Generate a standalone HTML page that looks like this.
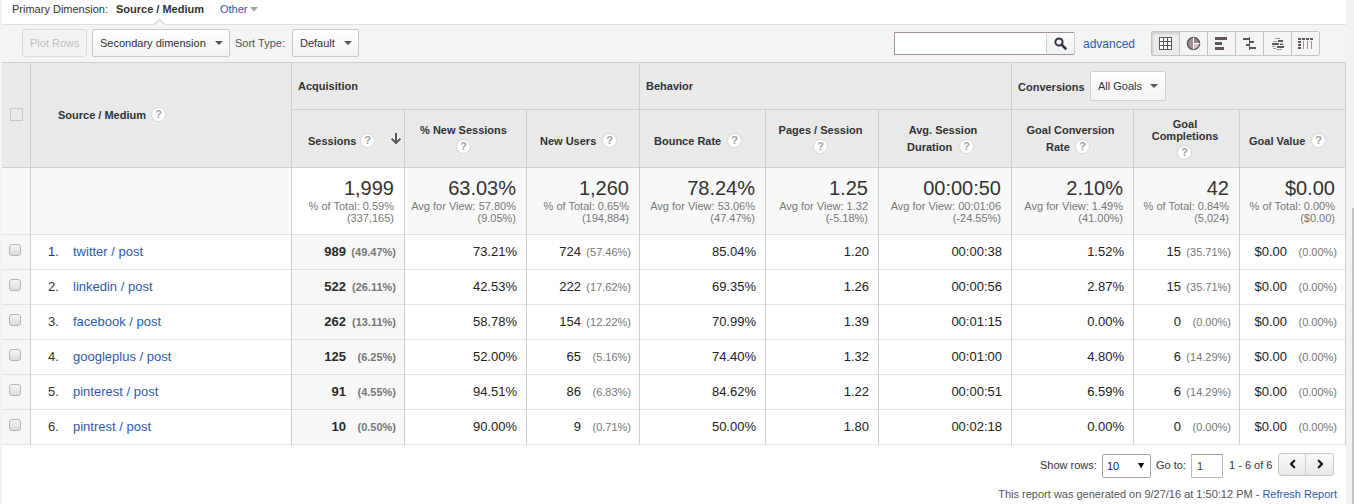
<!DOCTYPE html>
<html><head><meta charset="utf-8"><title>Analytics table</title>
<style>
html,body{margin:0;padding:0;width:1354px;height:504px;overflow:hidden;position:relative;font-family:"Liberation Sans", sans-serif;background:#fff}
</style></head><body>
<div style="position:absolute;left:0px;top:0px;width:1354px;height:504px;background:#ffffff"></div>
<div style="position:absolute;left:0px;top:0px;width:2px;height:504px;background:#f3f3f3"></div>
<div style="position:absolute;left:1346px;top:0px;width:8px;height:504px;background:#f2f2f2"></div>
<div style="position:absolute;left:1352px;top:208px;width:2px;height:296px;background:#c3c3c3"></div>
<div style="position:absolute;left:2px;top:0px;width:1344px;height:24px;background:#fff"></div>
<div style="position:absolute;left:2px;top:24px;width:1344px;height:1px;background:#dedede"></div>
<div style="position:absolute;left:12px;top:-1px;font-size:11px;line-height:20px;color:#333;white-space:nowrap;">Primary Dimension:</div>
<div style="position:absolute;left:116px;top:-1px;font-size:11px;line-height:20px;color:#333;font-weight:bold;white-space:nowrap;">Source / Medium</div>
<div style="position:absolute;left:220px;top:-1px;font-size:11px;line-height:20px;color:#2d5aac;white-space:nowrap;">Other</div>
<svg style="position:absolute;left:250px;top:7px" width="8" height="5"><polygon points="0,0 8,0 4,4.5" fill="#a0a0a0"/></svg>
<div style="position:absolute;left:2px;top:25px;width:1344px;height:37px;background:#f4f4f4"></div>
<svg style="position:absolute;left:153px;top:18px" width="14" height="8"><polygon points="1,6.5 6.5,1 12,6.5 12,7 1,7" fill="#f6f6f6"/><polyline points="1,6.6 6.5,1.1 12,6.6" fill="none" stroke="#b9b9b9" stroke-width="0.9"/></svg>
<div style="position:absolute;left:22px;top:29px;width:65px;height:28px;box-sizing:border-box;border:1px solid #dcdcdc;border-radius:3px;background:#f2f2f2"></div>
<div style="position:absolute;left:30px;top:33px;font-size:11px;line-height:20px;color:#c0c0c0;white-space:nowrap;">Plot Rows</div>
<div style="position:absolute;left:92px;top:29px;width:138px;height:28px;box-sizing:border-box;border:1px solid #c8c8c8;border-radius:2px;background:linear-gradient(#ffffff,#f3f3f3)"></div>
<div style="position:absolute;left:100px;top:33px;font-size:11px;line-height:20px;color:#333;white-space:nowrap;">Secondary dimension</div>
<svg style="position:absolute;left:215px;top:41px" width="8" height="5"><polygon points="0,0 8,0 4.0,4" fill="#555"/></svg>
<div style="position:absolute;left:235px;top:33px;font-size:11px;line-height:20px;color:#555;white-space:nowrap;">Sort Type:</div>
<div style="position:absolute;left:292px;top:29px;width:67px;height:28px;box-sizing:border-box;border:1px solid #c8c8c8;border-radius:2px;background:linear-gradient(#ffffff,#f3f3f3)"></div>
<div style="position:absolute;left:300px;top:33px;font-size:11px;line-height:20px;color:#333;white-space:nowrap;">Default</div>
<svg style="position:absolute;left:344px;top:41px" width="8" height="5"><polygon points="0,0 8,0 4.0,4" fill="#555"/></svg>
<div style="position:absolute;left:894px;top:32px;width:153px;height:23px;box-sizing:border-box;border:1px solid #a38e9b;background:#fff"></div>
<div style="position:absolute;left:1046px;top:32px;width:29px;height:23px;box-sizing:border-box;border:1px solid #a38e9b;border-left-color:#cfcfcf;border-right-color:#cdcdcd;border-radius:0 2px 2px 0;background:linear-gradient(#fbfbfb,#f1f1f1)"></div>
<svg style="position:absolute;left:1053px;top:36px" width="16" height="16"><circle cx="6" cy="6" r="3.6" fill="none" stroke="#3b2f4f" stroke-width="2"/><line x1="8.6" y1="8.6" x2="12.5" y2="12.5" stroke="#3b2f4f" stroke-width="2.6" stroke-linecap="round"/></svg>
<div style="position:absolute;left:1083px;top:34px;font-size:12px;line-height:20px;color:#2d5aac;white-space:nowrap;">advanced</div>
<div style="position:absolute;left:1151px;top:31px;width:169px;height:25px;box-sizing:border-box;border:1px solid #c4c4c4;border-radius:2px;background:#f4f4f4"></div>
<div style="position:absolute;left:1152px;top:32px;width:28px;height:23px;background:#ececec;box-shadow:inset 1px 2px 2px rgba(0,0,0,0.12)"></div>
<div style="position:absolute;left:1179px;top:32px;width:1px;height:23px;background:#c4c4c4"></div>
<div style="position:absolute;left:1207px;top:32px;width:1px;height:23px;background:#c4c4c4"></div>
<div style="position:absolute;left:1235px;top:32px;width:1px;height:23px;background:#c4c4c4"></div>
<div style="position:absolute;left:1263px;top:32px;width:1px;height:23px;background:#c4c4c4"></div>
<div style="position:absolute;left:1291px;top:32px;width:1px;height:23px;background:#c4c4c4"></div>
<svg style="position:absolute;left:1159px;top:37px" width="13" height="13"><rect x="0" y="0" width="13" height="13" fill="#5e5658"/>
<rect x="1" y="1" width="3" height="3" fill="#fff"/><rect x="1" y="5" width="3" height="3" fill="#fff"/><rect x="1" y="9" width="3" height="3" fill="#fff"/><rect x="5" y="1" width="3" height="3" fill="#fff"/><rect x="5" y="5" width="3" height="3" fill="#fff"/><rect x="5" y="9" width="3" height="3" fill="#fff"/><rect x="9" y="1" width="3" height="3" fill="#fff"/><rect x="9" y="5" width="3" height="3" fill="#fff"/><rect x="9" y="9" width="3" height="3" fill="#fff"/></svg>
<svg style="position:absolute;left:1186px;top:36px" width="15" height="15"><circle cx="7.5" cy="7.5" r="6.4" fill="#cdc7ca"/>
<path d="M7.5 7.5 L7.5 1.1 A6.4 6.4 0 0 1 13.9 7.5 Z" fill="#8f8489"/><path d="M7.5 1.1 A6.4 6.4 0 0 0 7.5 13.9 Z" fill="#a48f99"/><circle cx="7.5" cy="7.5" r="6.1" fill="none" stroke="#5e5658" stroke-width="1.4"/><line x1="7.5" y1="1.5" x2="7.5" y2="13.5" stroke="#fff" stroke-width="1"/><line x1="7.5" y1="7.5" x2="13.5" y2="7.5" stroke="#fff" stroke-width="1"/></svg>
<svg style="position:absolute;left:1215px;top:37px" width="13" height="13"><rect x="0" y="0" width="12" height="3" fill="#5e5658"/><rect x="0" y="5" width="7" height="3" fill="#5e5658"/><rect x="0" y="10" width="9" height="3" fill="#5e5658"/></svg>
<svg style="position:absolute;left:1243px;top:37px" width="14" height="13"><rect x="6" y="0" width="1" height="13" fill="#5e5658"/><rect x="0" y="1" width="6.5" height="2" fill="#5e5658"/><rect x="6" y="4" width="5" height="2" fill="#5e5658"/><rect x="3" y="7" width="3.5" height="2" fill="#5e5658"/><rect x="6" y="10" width="7" height="2" fill="#5e5658"/></svg>
<svg style="position:absolute;left:1272px;top:37px" width="13" height="13"><rect x="3" y="1" width="5" height="1" fill="#a48f99"/><rect x="1" y="4" width="4" height="1" fill="#a48f99"/><rect x="6" y="3" width="5" height="2" fill="#5e5658"/><rect x="0" y="6" width="7" height="2" fill="#5e5658"/><rect x="8" y="6.6" width="3" height="1.4" fill="#5e5658"/><rect x="0" y="9" width="3.5" height="1" fill="#a48f99"/><rect x="5" y="9" width="7" height="2" fill="#5e5658"/><rect x="1" y="11" width="3" height="1" fill="#a48f99"/><rect x="4.6" y="12" width="5.4" height="1" fill="#a48f99"/></svg>
<svg style="position:absolute;left:1298px;top:37px" width="16" height="13"><rect x="0" y="1" width="3" height="2" fill="#5e5658"/><rect x="4" y="1" width="3" height="2" fill="#5e5658"/><rect x="8" y="1" width="3" height="2" fill="#5e5658"/><rect x="12" y="1" width="3" height="2" fill="#5e5658"/>
<rect x="0" y="4" width="3" height="2" fill="#5e5658"/><rect x="0" y="7" width="3" height="2" fill="#5e5658"/><rect x="0" y="10" width="3" height="2" fill="#5e5658"/>
<rect x="5" y="4" width="1" height="8" fill="#a48f99"/><rect x="9" y="4" width="1" height="8" fill="#a48f99"/><rect x="13" y="4" width="1" height="8" fill="#a48f99"/></svg>
<div style="position:absolute;left:2px;top:62px;width:1344px;height:105px;background:#e9e9e9"></div>
<div style="position:absolute;left:2px;top:168px;width:1344px;height:66px;background:#f8f8f8"></div>
<div style="position:absolute;left:292px;top:168px;width:112px;height:66px;background:#ffffff"></div>
<div style="position:absolute;left:2px;top:235px;width:1344px;height:209px;background:#ffffff"></div>
<div style="position:absolute;left:2px;top:235px;width:28px;height:209px;background:#f6f6f6"></div>
<div style="position:absolute;left:292px;top:235px;width:112px;height:209px;background:#f8f8f8"></div>
<div style="position:absolute;left:2px;top:62px;width:1344px;height:1px;background:#cfcfcf"></div>
<div style="position:absolute;left:291px;top:109px;width:1055px;height:1px;background:#cfcfcf"></div>
<div style="position:absolute;left:2px;top:167px;width:1344px;height:1px;background:#cfcfcf"></div>
<div style="position:absolute;left:2px;top:234px;width:1344px;height:1px;background:#e3e3e3"></div>
<div style="position:absolute;left:2px;top:269px;width:1344px;height:1px;background:#e3e3e3"></div>
<div style="position:absolute;left:2px;top:304px;width:1344px;height:1px;background:#e3e3e3"></div>
<div style="position:absolute;left:2px;top:339px;width:1344px;height:1px;background:#e3e3e3"></div>
<div style="position:absolute;left:2px;top:374px;width:1344px;height:1px;background:#e3e3e3"></div>
<div style="position:absolute;left:2px;top:409px;width:1344px;height:1px;background:#e3e3e3"></div>
<div style="position:absolute;left:2px;top:444px;width:1344px;height:1px;background:#e3e3e3"></div>
<div style="position:absolute;left:30px;top:62px;width:1px;height:383px;background:#cfcfcf"></div>
<div style="position:absolute;left:291px;top:62px;width:1px;height:383px;background:#cfcfcf"></div>
<div style="position:absolute;left:404px;top:109px;width:1px;height:336px;background:#cfcfcf"></div>
<div style="position:absolute;left:526px;top:109px;width:1px;height:336px;background:#cfcfcf"></div>
<div style="position:absolute;left:639px;top:62px;width:1px;height:383px;background:#cfcfcf"></div>
<div style="position:absolute;left:765px;top:109px;width:1px;height:336px;background:#cfcfcf"></div>
<div style="position:absolute;left:878px;top:109px;width:1px;height:336px;background:#cfcfcf"></div>
<div style="position:absolute;left:1011px;top:62px;width:1px;height:383px;background:#cfcfcf"></div>
<div style="position:absolute;left:1133px;top:109px;width:1px;height:336px;background:#cfcfcf"></div>
<div style="position:absolute;left:1239px;top:109px;width:1px;height:336px;background:#cfcfcf"></div>
<div style="position:absolute;left:1345px;top:62px;width:1px;height:383px;background:#cfcfcf"></div>
<div style="position:absolute;left:10px;top:108px;width:13px;height:13px;box-sizing:border-box;border:1px solid #c6c6c6"></div>
<div style="position:absolute;left:58px;top:105px;font-size:11px;line-height:20px;color:#333;font-weight:bold;white-space:nowrap;">Source / Medium</div>
<div style="position:absolute;left:151px;top:107px;width:15px;height:15px;box-sizing:border-box;border-radius:50%;background:#fff;border:1px solid #d6d6d6;font-size:11px;font-weight:bold;line-height:13px;text-align:center;color:#a3a3a3">?</div>
<div style="position:absolute;left:298px;top:76px;font-size:11px;line-height:20px;color:#333;font-weight:bold;white-space:nowrap;">Acquisition</div>
<div style="position:absolute;left:646px;top:76px;font-size:11px;line-height:20px;color:#333;font-weight:bold;white-space:nowrap;">Behavior</div>
<div style="position:absolute;left:1018px;top:77px;font-size:11px;line-height:20px;color:#333;font-weight:bold;white-space:nowrap;">Conversions</div>
<div style="position:absolute;left:1090px;top:71px;width:76px;height:30px;box-sizing:border-box;border:1px solid #cfcfcf;border-radius:2px;background:linear-gradient(#ffffff,#f3f3f3)"></div>
<div style="position:absolute;left:1098px;top:76px;font-size:11px;line-height:20px;color:#333;white-space:nowrap;">All Goals</div>
<svg style="position:absolute;left:1150px;top:84px" width="8" height="5"><polygon points="0,0 8,0 4.0,4" fill="#555"/></svg>
<div style="position:absolute;left:308px;top:131px;font-size:11px;line-height:20px;color:#333;font-weight:bold;white-space:nowrap;">Sessions</div>
<div style="position:absolute;left:360px;top:133px;width:15px;height:15px;box-sizing:border-box;border-radius:50%;background:#fff;border:1px solid #d6d6d6;font-size:11px;font-weight:bold;line-height:13px;text-align:center;color:#a3a3a3">?</div>
<svg style="position:absolute;left:390px;top:132px" width="12" height="14"><g stroke="rgba(255,255,255,0.45)" stroke-width="4" fill="none"><line x1="6" y1="1" x2="6" y2="10.5"/><polyline points="1.6,6.6 6,11 10.4,6.6"/></g><g stroke="#595455" stroke-width="2" fill="none"><line x1="6" y1="1" x2="6" y2="10.5"/><polyline points="1.6,6.6 6,11 10.4,6.6"/></g></svg>
<div style="position:absolute;left:363.5px;width:200px;text-align:center;top:120px;font-size:11px;line-height:20px;color:#333;font-weight:bold;white-space:nowrap">% New Sessions</div>
<div style="position:absolute;left:456px;top:139px;width:15px;height:15px;box-sizing:border-box;border-radius:50%;background:#fff;border:1px solid #d6d6d6;font-size:11px;font-weight:bold;line-height:13px;text-align:center;color:#a3a3a3">?</div>
<div style="position:absolute;left:540px;top:131px;font-size:11px;line-height:20px;color:#333;font-weight:bold;white-space:nowrap;">New Users</div>
<div style="position:absolute;left:602px;top:133px;width:15px;height:15px;box-sizing:border-box;border-radius:50%;background:#fff;border:1px solid #d6d6d6;font-size:11px;font-weight:bold;line-height:13px;text-align:center;color:#a3a3a3">?</div>
<div style="position:absolute;left:654px;top:131px;font-size:11px;line-height:20px;color:#333;font-weight:bold;white-space:nowrap;">Bounce Rate</div>
<div style="position:absolute;left:727px;top:133px;width:15px;height:15px;box-sizing:border-box;border-radius:50%;background:#fff;border:1px solid #d6d6d6;font-size:11px;font-weight:bold;line-height:13px;text-align:center;color:#a3a3a3">?</div>
<div style="position:absolute;left:720.5px;width:200px;text-align:center;top:120px;font-size:11px;line-height:20px;color:#333;font-weight:bold;white-space:nowrap">Pages / Session</div>
<div style="position:absolute;left:813px;top:139px;width:15px;height:15px;box-sizing:border-box;border-radius:50%;background:#fff;border:1px solid #d6d6d6;font-size:11px;font-weight:bold;line-height:13px;text-align:center;color:#a3a3a3">?</div>
<div style="position:absolute;left:843px;width:200px;text-align:center;top:120px;font-size:11px;line-height:20px;color:#333;font-weight:bold;white-space:nowrap">Avg. Session</div>
<div style="position:absolute;left:907px;top:137px;font-size:11px;line-height:20px;color:#333;font-weight:bold;white-space:nowrap;">Duration</div>
<div style="position:absolute;left:959px;top:139px;width:15px;height:15px;box-sizing:border-box;border-radius:50%;background:#fff;border:1px solid #d6d6d6;font-size:11px;font-weight:bold;line-height:13px;text-align:center;color:#a3a3a3">?</div>
<div style="position:absolute;left:970.5px;width:200px;text-align:center;top:120px;font-size:11px;line-height:20px;color:#333;font-weight:bold;white-space:nowrap">Goal Conversion</div>
<div style="position:absolute;left:1046px;top:137px;font-size:11px;line-height:20px;color:#333;font-weight:bold;white-space:nowrap;">Rate</div>
<div style="position:absolute;left:1075px;top:139px;width:15px;height:15px;box-sizing:border-box;border-radius:50%;background:#fff;border:1px solid #d6d6d6;font-size:11px;font-weight:bold;line-height:13px;text-align:center;color:#a3a3a3">?</div>
<div style="position:absolute;left:1085px;width:200px;text-align:center;top:114px;font-size:11px;line-height:20px;color:#333;font-weight:bold;white-space:nowrap">Goal</div>
<div style="position:absolute;left:1085px;width:200px;text-align:center;top:126px;font-size:11px;line-height:20px;color:#333;font-weight:bold;white-space:nowrap">Completions</div>
<div style="position:absolute;left:1177px;top:145px;width:15px;height:15px;box-sizing:border-box;border-radius:50%;background:#fff;border:1px solid #d6d6d6;font-size:11px;font-weight:bold;line-height:13px;text-align:center;color:#a3a3a3">?</div>
<div style="position:absolute;left:1249px;top:131px;font-size:11px;line-height:20px;color:#333;font-weight:bold;white-space:nowrap;">Goal Value</div>
<div style="position:absolute;left:1311px;top:133px;width:15px;height:15px;box-sizing:border-box;border-radius:50%;background:#fff;border:1px solid #d6d6d6;font-size:11px;font-weight:bold;line-height:13px;text-align:center;color:#a3a3a3">?</div>
<div style="position:absolute;right:960px;top:178px;font-size:20px;line-height:20px;color:#333;white-space:nowrap;">1,999</div>
<div style="position:absolute;right:960px;top:196px;font-size:11px;line-height:20px;color:#777;white-space:nowrap;">% of Total: 0.59%</div>
<div style="position:absolute;right:960px;top:208px;font-size:11px;line-height:20px;color:#777;white-space:nowrap;">(337,165)</div>
<div style="position:absolute;right:838px;top:178px;font-size:20px;line-height:20px;color:#333;white-space:nowrap;">63.03%</div>
<div style="position:absolute;right:838px;top:196px;font-size:11px;line-height:20px;color:#777;white-space:nowrap;">Avg for View: 57.80%</div>
<div style="position:absolute;right:838px;top:208px;font-size:11px;line-height:20px;color:#777;white-space:nowrap;">(9.05%)</div>
<div style="position:absolute;right:725px;top:178px;font-size:20px;line-height:20px;color:#333;white-space:nowrap;">1,260</div>
<div style="position:absolute;right:725px;top:196px;font-size:11px;line-height:20px;color:#777;white-space:nowrap;">% of Total: 0.65%</div>
<div style="position:absolute;right:725px;top:208px;font-size:11px;line-height:20px;color:#777;white-space:nowrap;">(194,884)</div>
<div style="position:absolute;right:599px;top:178px;font-size:20px;line-height:20px;color:#333;white-space:nowrap;">78.24%</div>
<div style="position:absolute;right:599px;top:196px;font-size:11px;line-height:20px;color:#777;white-space:nowrap;">Avg for View: 53.06%</div>
<div style="position:absolute;right:599px;top:208px;font-size:11px;line-height:20px;color:#777;white-space:nowrap;">(47.47%)</div>
<div style="position:absolute;right:486px;top:178px;font-size:20px;line-height:20px;color:#333;white-space:nowrap;">1.25</div>
<div style="position:absolute;right:486px;top:196px;font-size:11px;line-height:20px;color:#777;white-space:nowrap;">Avg for View: 1.32</div>
<div style="position:absolute;right:486px;top:208px;font-size:11px;line-height:20px;color:#777;white-space:nowrap;">(-5.18%)</div>
<div style="position:absolute;right:353px;top:178px;font-size:20px;line-height:20px;color:#333;white-space:nowrap;">00:00:50</div>
<div style="position:absolute;right:353px;top:196px;font-size:11px;line-height:20px;color:#777;white-space:nowrap;">Avg for View: 00:01:06</div>
<div style="position:absolute;right:353px;top:208px;font-size:11px;line-height:20px;color:#777;white-space:nowrap;">(-24.55%)</div>
<div style="position:absolute;right:231px;top:178px;font-size:20px;line-height:20px;color:#333;white-space:nowrap;">2.10%</div>
<div style="position:absolute;right:231px;top:196px;font-size:11px;line-height:20px;color:#777;white-space:nowrap;">Avg for View: 1.49%</div>
<div style="position:absolute;right:231px;top:208px;font-size:11px;line-height:20px;color:#777;white-space:nowrap;">(41.00%)</div>
<div style="position:absolute;right:125px;top:178px;font-size:20px;line-height:20px;color:#333;white-space:nowrap;">42</div>
<div style="position:absolute;right:125px;top:196px;font-size:11px;line-height:20px;color:#777;white-space:nowrap;">% of Total: 0.84%</div>
<div style="position:absolute;right:125px;top:208px;font-size:11px;line-height:20px;color:#777;white-space:nowrap;">(5,024)</div>
<div style="position:absolute;right:19px;top:178px;font-size:20px;line-height:20px;color:#333;white-space:nowrap;">$0.00</div>
<div style="position:absolute;right:19px;top:196px;font-size:11px;line-height:20px;color:#777;white-space:nowrap;">% of Total: 0.00%</div>
<div style="position:absolute;right:19px;top:208px;font-size:11px;line-height:20px;color:#777;white-space:nowrap;">($0.00)</div>
<div style="position:absolute;left:9px;top:244px;width:12px;height:12px;box-sizing:border-box;border:1px solid #b5b5b5;border-radius:3px;background:linear-gradient(#f4f4f4,#dcdcdc)"></div>
<div style="position:absolute;left:48px;top:242px;font-size:13px;line-height:20px;color:#333;white-space:nowrap;">1.</div>
<div style="position:absolute;left:73px;top:242px;font-size:13px;line-height:20px;color:#2d5aac;white-space:nowrap;">twitter / post</div>
<div style="position:absolute;right:958px;top:242px;font-size:11px;line-height:20px;color:#777;font-weight:bold;white-space:nowrap;">(49.47%)</div>
<div style="position:absolute;right:1008px;top:242px;font-size:13px;line-height:20px;color:#2a2a2a;font-weight:bold;white-space:nowrap;">989</div>
<div style="position:absolute;right:837px;top:242px;font-size:13px;line-height:20px;color:#222;white-space:nowrap;">73.21%</div>
<div style="position:absolute;right:723px;top:242px;font-size:11px;line-height:20px;color:#777;white-space:nowrap;">(57.46%)</div>
<div style="position:absolute;right:773px;top:242px;font-size:13px;line-height:20px;color:#222;white-space:nowrap;">724</div>
<div style="position:absolute;right:598px;top:242px;font-size:13px;line-height:20px;color:#222;white-space:nowrap;">85.04%</div>
<div style="position:absolute;right:485px;top:242px;font-size:13px;line-height:20px;color:#222;white-space:nowrap;">1.20</div>
<div style="position:absolute;right:352px;top:242px;font-size:13px;line-height:20px;color:#222;white-space:nowrap;">00:00:38</div>
<div style="position:absolute;right:230px;top:242px;font-size:13px;line-height:20px;color:#222;white-space:nowrap;">1.52%</div>
<div style="position:absolute;right:123px;top:242px;font-size:11px;line-height:20px;color:#777;white-space:nowrap;">(35.71%)</div>
<div style="position:absolute;right:173px;top:242px;font-size:13px;line-height:20px;color:#222;white-space:nowrap;">15</div>
<div style="position:absolute;right:17px;top:242px;font-size:11px;line-height:20px;color:#777;white-space:nowrap;">(0.00%)</div>
<div style="position:absolute;right:67px;top:242px;font-size:13px;line-height:20px;color:#222;white-space:nowrap;">$0.00</div>
<div style="position:absolute;left:9px;top:279px;width:12px;height:12px;box-sizing:border-box;border:1px solid #b5b5b5;border-radius:3px;background:linear-gradient(#f4f4f4,#dcdcdc)"></div>
<div style="position:absolute;left:48px;top:277px;font-size:13px;line-height:20px;color:#333;white-space:nowrap;">2.</div>
<div style="position:absolute;left:73px;top:277px;font-size:13px;line-height:20px;color:#2d5aac;white-space:nowrap;">linkedin / post</div>
<div style="position:absolute;right:958px;top:277px;font-size:11px;line-height:20px;color:#777;font-weight:bold;white-space:nowrap;">(26.11%)</div>
<div style="position:absolute;right:1008px;top:277px;font-size:13px;line-height:20px;color:#2a2a2a;font-weight:bold;white-space:nowrap;">522</div>
<div style="position:absolute;right:837px;top:277px;font-size:13px;line-height:20px;color:#222;white-space:nowrap;">42.53%</div>
<div style="position:absolute;right:723px;top:277px;font-size:11px;line-height:20px;color:#777;white-space:nowrap;">(17.62%)</div>
<div style="position:absolute;right:773px;top:277px;font-size:13px;line-height:20px;color:#222;white-space:nowrap;">222</div>
<div style="position:absolute;right:598px;top:277px;font-size:13px;line-height:20px;color:#222;white-space:nowrap;">69.35%</div>
<div style="position:absolute;right:485px;top:277px;font-size:13px;line-height:20px;color:#222;white-space:nowrap;">1.26</div>
<div style="position:absolute;right:352px;top:277px;font-size:13px;line-height:20px;color:#222;white-space:nowrap;">00:00:56</div>
<div style="position:absolute;right:230px;top:277px;font-size:13px;line-height:20px;color:#222;white-space:nowrap;">2.87%</div>
<div style="position:absolute;right:123px;top:277px;font-size:11px;line-height:20px;color:#777;white-space:nowrap;">(35.71%)</div>
<div style="position:absolute;right:173px;top:277px;font-size:13px;line-height:20px;color:#222;white-space:nowrap;">15</div>
<div style="position:absolute;right:17px;top:277px;font-size:11px;line-height:20px;color:#777;white-space:nowrap;">(0.00%)</div>
<div style="position:absolute;right:67px;top:277px;font-size:13px;line-height:20px;color:#222;white-space:nowrap;">$0.00</div>
<div style="position:absolute;left:9px;top:314px;width:12px;height:12px;box-sizing:border-box;border:1px solid #b5b5b5;border-radius:3px;background:linear-gradient(#f4f4f4,#dcdcdc)"></div>
<div style="position:absolute;left:48px;top:312px;font-size:13px;line-height:20px;color:#333;white-space:nowrap;">3.</div>
<div style="position:absolute;left:73px;top:312px;font-size:13px;line-height:20px;color:#2d5aac;white-space:nowrap;">facebook / post</div>
<div style="position:absolute;right:958px;top:312px;font-size:11px;line-height:20px;color:#777;font-weight:bold;white-space:nowrap;">(13.11%)</div>
<div style="position:absolute;right:1008px;top:312px;font-size:13px;line-height:20px;color:#2a2a2a;font-weight:bold;white-space:nowrap;">262</div>
<div style="position:absolute;right:837px;top:312px;font-size:13px;line-height:20px;color:#222;white-space:nowrap;">58.78%</div>
<div style="position:absolute;right:723px;top:312px;font-size:11px;line-height:20px;color:#777;white-space:nowrap;">(12.22%)</div>
<div style="position:absolute;right:773px;top:312px;font-size:13px;line-height:20px;color:#222;white-space:nowrap;">154</div>
<div style="position:absolute;right:598px;top:312px;font-size:13px;line-height:20px;color:#222;white-space:nowrap;">70.99%</div>
<div style="position:absolute;right:485px;top:312px;font-size:13px;line-height:20px;color:#222;white-space:nowrap;">1.39</div>
<div style="position:absolute;right:352px;top:312px;font-size:13px;line-height:20px;color:#222;white-space:nowrap;">00:01:15</div>
<div style="position:absolute;right:230px;top:312px;font-size:13px;line-height:20px;color:#222;white-space:nowrap;">0.00%</div>
<div style="position:absolute;right:123px;top:312px;font-size:11px;line-height:20px;color:#777;white-space:nowrap;">(0.00%)</div>
<div style="position:absolute;right:173px;top:312px;font-size:13px;line-height:20px;color:#222;white-space:nowrap;">0</div>
<div style="position:absolute;right:17px;top:312px;font-size:11px;line-height:20px;color:#777;white-space:nowrap;">(0.00%)</div>
<div style="position:absolute;right:67px;top:312px;font-size:13px;line-height:20px;color:#222;white-space:nowrap;">$0.00</div>
<div style="position:absolute;left:9px;top:349px;width:12px;height:12px;box-sizing:border-box;border:1px solid #b5b5b5;border-radius:3px;background:linear-gradient(#f4f4f4,#dcdcdc)"></div>
<div style="position:absolute;left:48px;top:347px;font-size:13px;line-height:20px;color:#333;white-space:nowrap;">4.</div>
<div style="position:absolute;left:73px;top:347px;font-size:13px;line-height:20px;color:#2d5aac;white-space:nowrap;">googleplus / post</div>
<div style="position:absolute;right:958px;top:347px;font-size:11px;line-height:20px;color:#777;font-weight:bold;white-space:nowrap;">(6.25%)</div>
<div style="position:absolute;right:1008px;top:347px;font-size:13px;line-height:20px;color:#2a2a2a;font-weight:bold;white-space:nowrap;">125</div>
<div style="position:absolute;right:837px;top:347px;font-size:13px;line-height:20px;color:#222;white-space:nowrap;">52.00%</div>
<div style="position:absolute;right:723px;top:347px;font-size:11px;line-height:20px;color:#777;white-space:nowrap;">(5.16%)</div>
<div style="position:absolute;right:773px;top:347px;font-size:13px;line-height:20px;color:#222;white-space:nowrap;">65</div>
<div style="position:absolute;right:598px;top:347px;font-size:13px;line-height:20px;color:#222;white-space:nowrap;">74.40%</div>
<div style="position:absolute;right:485px;top:347px;font-size:13px;line-height:20px;color:#222;white-space:nowrap;">1.32</div>
<div style="position:absolute;right:352px;top:347px;font-size:13px;line-height:20px;color:#222;white-space:nowrap;">00:01:00</div>
<div style="position:absolute;right:230px;top:347px;font-size:13px;line-height:20px;color:#222;white-space:nowrap;">4.80%</div>
<div style="position:absolute;right:123px;top:347px;font-size:11px;line-height:20px;color:#777;white-space:nowrap;">(14.29%)</div>
<div style="position:absolute;right:173px;top:347px;font-size:13px;line-height:20px;color:#222;white-space:nowrap;">6</div>
<div style="position:absolute;right:17px;top:347px;font-size:11px;line-height:20px;color:#777;white-space:nowrap;">(0.00%)</div>
<div style="position:absolute;right:67px;top:347px;font-size:13px;line-height:20px;color:#222;white-space:nowrap;">$0.00</div>
<div style="position:absolute;left:9px;top:384px;width:12px;height:12px;box-sizing:border-box;border:1px solid #b5b5b5;border-radius:3px;background:linear-gradient(#f4f4f4,#dcdcdc)"></div>
<div style="position:absolute;left:48px;top:382px;font-size:13px;line-height:20px;color:#333;white-space:nowrap;">5.</div>
<div style="position:absolute;left:73px;top:382px;font-size:13px;line-height:20px;color:#2d5aac;white-space:nowrap;">pinterest / post</div>
<div style="position:absolute;right:958px;top:382px;font-size:11px;line-height:20px;color:#777;font-weight:bold;white-space:nowrap;">(4.55%)</div>
<div style="position:absolute;right:1008px;top:382px;font-size:13px;line-height:20px;color:#2a2a2a;font-weight:bold;white-space:nowrap;">91</div>
<div style="position:absolute;right:837px;top:382px;font-size:13px;line-height:20px;color:#222;white-space:nowrap;">94.51%</div>
<div style="position:absolute;right:723px;top:382px;font-size:11px;line-height:20px;color:#777;white-space:nowrap;">(6.83%)</div>
<div style="position:absolute;right:773px;top:382px;font-size:13px;line-height:20px;color:#222;white-space:nowrap;">86</div>
<div style="position:absolute;right:598px;top:382px;font-size:13px;line-height:20px;color:#222;white-space:nowrap;">84.62%</div>
<div style="position:absolute;right:485px;top:382px;font-size:13px;line-height:20px;color:#222;white-space:nowrap;">1.22</div>
<div style="position:absolute;right:352px;top:382px;font-size:13px;line-height:20px;color:#222;white-space:nowrap;">00:00:51</div>
<div style="position:absolute;right:230px;top:382px;font-size:13px;line-height:20px;color:#222;white-space:nowrap;">6.59%</div>
<div style="position:absolute;right:123px;top:382px;font-size:11px;line-height:20px;color:#777;white-space:nowrap;">(14.29%)</div>
<div style="position:absolute;right:173px;top:382px;font-size:13px;line-height:20px;color:#222;white-space:nowrap;">6</div>
<div style="position:absolute;right:17px;top:382px;font-size:11px;line-height:20px;color:#777;white-space:nowrap;">(0.00%)</div>
<div style="position:absolute;right:67px;top:382px;font-size:13px;line-height:20px;color:#222;white-space:nowrap;">$0.00</div>
<div style="position:absolute;left:9px;top:419px;width:12px;height:12px;box-sizing:border-box;border:1px solid #b5b5b5;border-radius:3px;background:linear-gradient(#f4f4f4,#dcdcdc)"></div>
<div style="position:absolute;left:48px;top:417px;font-size:13px;line-height:20px;color:#333;white-space:nowrap;">6.</div>
<div style="position:absolute;left:73px;top:417px;font-size:13px;line-height:20px;color:#2d5aac;white-space:nowrap;">pintrest / post</div>
<div style="position:absolute;right:958px;top:417px;font-size:11px;line-height:20px;color:#777;font-weight:bold;white-space:nowrap;">(0.50%)</div>
<div style="position:absolute;right:1008px;top:417px;font-size:13px;line-height:20px;color:#2a2a2a;font-weight:bold;white-space:nowrap;">10</div>
<div style="position:absolute;right:837px;top:417px;font-size:13px;line-height:20px;color:#222;white-space:nowrap;">90.00%</div>
<div style="position:absolute;right:723px;top:417px;font-size:11px;line-height:20px;color:#777;white-space:nowrap;">(0.71%)</div>
<div style="position:absolute;right:773px;top:417px;font-size:13px;line-height:20px;color:#222;white-space:nowrap;">9</div>
<div style="position:absolute;right:598px;top:417px;font-size:13px;line-height:20px;color:#222;white-space:nowrap;">50.00%</div>
<div style="position:absolute;right:485px;top:417px;font-size:13px;line-height:20px;color:#222;white-space:nowrap;">1.80</div>
<div style="position:absolute;right:352px;top:417px;font-size:13px;line-height:20px;color:#222;white-space:nowrap;">00:02:18</div>
<div style="position:absolute;right:230px;top:417px;font-size:13px;line-height:20px;color:#222;white-space:nowrap;">0.00%</div>
<div style="position:absolute;right:123px;top:417px;font-size:11px;line-height:20px;color:#777;white-space:nowrap;">(0.00%)</div>
<div style="position:absolute;right:173px;top:417px;font-size:13px;line-height:20px;color:#222;white-space:nowrap;">0</div>
<div style="position:absolute;right:17px;top:417px;font-size:11px;line-height:20px;color:#777;white-space:nowrap;">(0.00%)</div>
<div style="position:absolute;right:67px;top:417px;font-size:13px;line-height:20px;color:#222;white-space:nowrap;">$0.00</div>
<div style="position:absolute;left:1040px;top:455px;font-size:11px;line-height:20px;color:#333;white-space:nowrap;">Show rows:</div>
<div style="position:absolute;left:1102px;top:454px;width:49px;height:24px;box-sizing:border-box;border:1px solid #a5a5a5;border-radius:2px;background:#fff"></div>
<div style="position:absolute;left:1107px;top:456px;font-size:11px;line-height:20px;color:#222;white-space:nowrap;">10</div>
<svg style="position:absolute;left:1138px;top:463px" width="7" height="6"><polygon points="0,0 6.2,0 3.1,5.5" fill="#111"/></svg>
<div style="position:absolute;left:1156px;top:455px;font-size:11px;line-height:20px;color:#333;white-space:nowrap;">Go to:</div>
<div style="position:absolute;left:1191px;top:454px;width:32px;height:24px;box-sizing:border-box;border:1px solid #b9b9b9;border-top-color:#999;background:#fff"></div>
<div style="position:absolute;left:1197px;top:456px;font-size:11px;line-height:20px;color:#444;white-space:nowrap;">1</div>
<div style="position:absolute;left:1229px;top:455px;font-size:11px;line-height:20px;color:#333;white-space:nowrap;">1 - 6 of 6</div>
<div style="position:absolute;left:1278px;top:453px;width:56px;height:23px;box-sizing:border-box;border:1px solid #c8c8c8;border-radius:3px;background:linear-gradient(#fafafa,#e8e8e8)"></div>
<div style="position:absolute;left:1305px;top:454px;width:1px;height:21px;background:#d0d0d0"></div>
<svg style="position:absolute;left:1289px;top:459px" width="8" height="10"><polyline points="5.2,1.8 2,5 5.2,8.2" fill="none" stroke="#161616" stroke-width="2.3" stroke-linecap="round" stroke-linejoin="round"/></svg>
<svg style="position:absolute;left:1317px;top:459px" width="8" height="10"><polyline points="1.8,1.8 5,5 1.8,8.2" fill="none" stroke="#161616" stroke-width="2.3" stroke-linecap="round" stroke-linejoin="round"/></svg>
<div style="position:absolute;right:17px;top:484px;font-size:11px;line-height:20px;color:#555;white-space:nowrap">This report was generated on 9/27/16 at 1:50:12 PM - <span style="color:#2d5aac">Refresh Report</span></div>
</body></html>
